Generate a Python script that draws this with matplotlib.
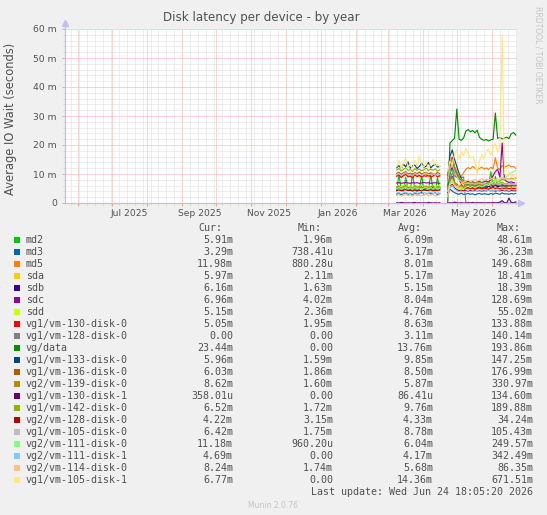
import numpy as np
import matplotlib
matplotlib.use("Agg")
import matplotlib.pyplot as plt
import matplotlib.dates as mdates
from matplotlib.ticker import MultipleLocator, FixedLocator
from datetime import datetime, timedelta

W, H = 547, 515

# ---------------- data (values in milliseconds) ----------------
seg1_start = datetime(2026, 3, 9)
seg2_start = datetime(2026, 4, 23)
dates = ([seg1_start + timedelta(days=2 * i) for i in range(20)]
         + [datetime(2026, 4, 19)]
         + [seg2_start + timedelta(days=2 * i) for i in range(31)])
N = None

md2 = [4.2, 9.8, 4.5, 4.1, 8.9, 4.6, 4.3, 10.2, 4.4, 4.0, 4.7, 9.5, 4.3, 4.5, 4.2, 10.0, 4.6, 4.1, 8.7, 4.4, N,
       3.8, 9.6, 12.4, 7.2, 6.5, 5.8, 6.2, 5.5, 5.9, 6.3, 5.6, 6.0, 5.4, 6.8, 6.1, 5.7, 6.1, 5.5, 5.9, 10.8, 5.8, 9.2, 6.0, 5.6, 7.1, 6.2, 5.7, 6.0, 5.8, 6.3, 5.91]
md3 = [3.1, 3.4, 2.9, 3.2, 3.6, 3.0, 3.3, 2.8, 3.5, 3.1, 3.2, 3.7, 2.9, 3.0, 3.4, 3.2, 3.1, 3.5, 2.9, 3.3, N,
       2.6, 4.8, 4.1, 3.6, 3.2, 3.0, 3.4, 2.9, 3.1, 3.3, 3.0, 3.2, 2.8, 3.1, 3.3, 3.0, 3.2, 3.1, 2.9, 3.3, 3.0, 3.4, 3.2, 3.0, 3.5, 3.1, 3.2, 3.0, 3.3, 3.1, 3.29]
md5 = [9.6, 10.1, 9.3, 9.8, 10.4, 9.5, 9.9, 9.2, 10.2, 9.7, 9.4, 10.0, 9.6, 9.8, 9.1, 10.3, 9.7, 9.5, 9.9, 9.4, N,
       7.5, 12.8, 14.6, 11.2, 9.8, 8.6, 9.2, 10.5, 11.6, 12.2, 11.8, 12.6, 12.0, 11.4, 11.9, 12.4, 11.7, 12.1, 11.5, 12.3, 11.8, 15.6, 12.0, 11.6, 12.9, 12.3, 12.7, 13.1, 12.4, 12.6, 11.98]
sda = [5.2, 4.8, 5.6, 5.1, 4.6, 5.4, 5.9, 4.9, 5.3, 5.0, 5.7, 4.7, 5.2, 5.5, 4.9, 5.1, 5.8, 5.0, 4.8, 5.3, N,
       4.5, 8.2, 7.4, 6.8, 6.1, 5.6, 5.2, 5.8, 5.0, 4.8, 5.3, 5.1, 4.9, 5.4, 5.2, 5.6, 4.8, 5.1, 5.5, 5.0, 5.3, 5.7, 5.2, 4.9, 6.4, 5.5, 5.1, 5.8, 5.4, 5.6, 5.97]
sdb = [5.0, 5.3, 4.8, 5.1, 5.5, 4.9, 5.2, 4.7, 5.4, 5.0, 5.1, 5.6, 4.8, 5.2, 5.0, 4.9, 5.3, 5.1, 4.8, 5.2, N,
       4.0, 7.6, 9.2, 6.4, 5.8, 5.2, 5.5, 5.0, 5.3, 5.6, 5.1, 5.4, 5.0, 5.2, 5.5, 5.3, 5.6, 5.2, 5.8, 5.4, 5.7, 6.1, 5.6, 5.9, 6.3, 5.8, 6.0, 6.2, 5.9, 6.1, 6.16]
sdc = [6.9, 7.0, 6.8, 6.9, 7.1, 6.9, 6.8, 7.0, 6.9, 7.0, 6.8, 6.9, 7.1, 6.9, 7.0, 6.8, 6.9, 7.0, 6.9, 6.8, N,
       6.0, 11.4, 12.2, 10.6, 9.2, 8.4, 7.8, 7.5, 7.2, 7.4, 7.1, 7.3, 7.0, 7.2, 7.4, 7.1, 7.3, 7.6, 7.2, 8.1, 9.4, 10.8, 11.6, 8.9, 20.7, 8.2, 7.4, 7.1, 7.3, 7.0, 6.96]
sdd = [5.8, 6.0, 5.6, 5.9, 6.2, 5.7, 5.8, 5.5, 6.1, 5.9, 5.7, 6.0, 5.6, 5.8, 6.1, 5.7, 5.9, 5.6, 6.0, 5.8, N,
       3.6, 6.8, 8.4, 6.2, 5.4, 4.9, 5.1, 4.6, 4.8, 5.0, 4.7, 4.9, 4.5, 4.8, 5.0, 4.6, 4.9, 5.1, 4.7, 5.0, 5.2, 5.5, 4.9, 5.1, 5.6, 5.0, 5.2, 4.8, 5.1, 5.3, 5.15]
vg1_130_0 = [9.2, 9.6, 8.8, 9.4, 9.9, 9.0, 9.3, 8.7, 9.7, 9.1, 9.5, 8.9, 9.4, 9.2, 9.8, 8.9, 9.3, 9.6, 9.0, 9.4, N,
             7.8, 13.6, 15.8, 12.4, 10.6, 8.2, 6.4, 5.4, 5.0, 5.2, 4.9, 5.1, 4.8, 5.0, 5.2, 4.9, 5.1, 5.0, 4.8, 5.1, 5.3, 5.0, 5.2, 4.9, 5.1, 5.0, 5.2, 4.9, 5.1, 5.0, 5.05]
vg1_128_0 = [4.8, 5.2, 4.6, 5.0, 5.4, 4.7, 4.9, 4.5, 5.1, 4.8, 5.0, 5.3, 4.6, 4.9, 5.1, 4.7, 5.0, 4.8, 5.2, 4.9, N,
             5.5, 8.6, 10.2, 9.4, 8.8, 9.1, 8.7, 9.0, 0.0, 0.0, 0.0, 0.0, 0.0, 0.0, 0.0, 0.0, 0.0, 0.0, 0.0, 0.0, 0.0, 0.0, 0.0, 0.0, 0.0, 0.0, 0.0, 0.0, 0.0, 0.0, 0.0]
vg_data = [N, N, N, N, N, N, N, N, N, N, N, N, N, N, N, N, N, N, N, N, N,
           0.0, 20.7, 21.5, 22.3, 32.4, 22.0, 21.6, 22.4, 24.8, 25.3, 24.6, 25.0, 24.2, 25.1, 22.6, 22.0, 21.6, 21.9, 21.4, 21.8, 22.0, 31.0, 22.3, 22.6, 22.1, 22.4, 22.7, 22.2, 23.9, 24.3, 23.44]
vg1_133_0 = [12.2, 12.9, 11.8, 13.4, 12.5, 14.2, 12.0, 12.8, 13.1, 11.9, 12.6, 13.8, 12.3, 12.7, 14.0, 12.1, 12.9, 13.3, 12.4, 12.6, N,
             9.5, 16.2, 18.3, 15.1, 12.6, 10.2, 8.4, 7.2, 6.6, 6.2, 6.5, 6.0, 6.3, 5.9, 6.2, 6.0, 6.4, 5.8, 6.1, 6.3, 5.9, 6.2, 6.0, 6.3, 5.8, 6.1, 6.0, 5.9, 6.2, 6.0, 5.96]
vg1_136_0 = [10.2, 10.6, 9.9, 10.4, 10.8, 10.0, 10.3, 9.8, 10.5, 10.1, 10.7, 9.9, 10.3, 10.6, 10.0, 10.4, 10.2, 9.8, 10.5, 10.1, N,
             8.0, 12.4, 14.2, 11.6, 9.8, 8.2, 7.4, 6.8, 6.4, 6.6, 6.2, 6.5, 6.1, 6.3, 6.6, 6.2, 6.4, 6.0, 6.3, 6.5, 6.1, 6.4, 6.2, 6.0, 6.5, 6.1, 6.3, 5.9, 6.2, 6.1, 6.03]
vg2_139_0 = [5.4, 5.8, 5.2, 5.6, 6.0, 5.3, 5.5, 5.1, 5.9, 5.4, 5.7, 5.2, 5.6, 5.8, 5.3, 5.5, 5.9, 5.2, 5.6, 5.4, N,
             4.2, 7.8, 8.9, 7.0, 6.2, 5.8, 6.0, 5.5, 5.8, 6.2, 5.7, 6.0, 5.6, 5.9, 6.3, 6.0, 6.4, 6.8, 6.5, 7.0, 7.4, 7.8, 7.2, 7.6, 8.2, 7.9, 8.4, 8.1, 8.6, 8.3, 8.62]
vg1_130_1 = [0.1, 0.0, 0.2, 0.1, 0.0, 0.1, 0.0, 0.1, 0.2, 0.0, 0.1, 0.0, 0.1, 0.0, 0.2, 0.1, 0.0, 0.1, 0.0, 0.1, N,
             0.0, 0.1, 0.0, 0.3, 0.1, 0.0, 0.1, 0.0, 0.0, 0.1, 0.0, 0.2, 0.0, 0.1, 0.0, 0.1, 0.0, 0.0, 0.1, 0.0, 0.2, 0.0, 0.1, 0.3, 0.8, 0.1, 0.0, 1.7, 0.2, 0.1, 0.36]
vg1_142_0 = [11.4, 11.9, 11.0, 11.6, 12.2, 11.2, 11.5, 10.9, 11.8, 11.3, 11.7, 11.1, 11.5, 12.0, 11.2, 11.6, 11.3, 11.8, 11.0, 11.4, N,
             8.6, 13.8, 15.2, 12.6, 10.8, 9.0, 8.1, 7.4, 7.0, 6.8, 7.1, 6.7, 6.9, 7.2, 6.8, 7.0, 6.6, 6.9, 7.1, 6.7, 7.0, 6.8, 6.5, 6.9, 7.2, 6.6, 6.8, 6.5, 6.7, 6.6, 6.52]
vg2_128_0 = [4.3, 4.5, 4.2, 4.4, 4.6, 4.3, 4.4, 4.1, 4.5, 4.3, 4.4, 4.2, 4.6, 4.3, 4.4, 4.5, 4.2, 4.4, 4.3, 4.5, N,
             3.6, 5.8, 6.4, 5.2, 4.6, 4.3, 4.4, 4.2, 4.3, 4.1, 4.3, 4.2, 4.4, 4.2, 4.3, 4.1, 4.3, 4.2, 4.4, 4.2, 4.3, 4.1, 4.3, 4.2, 4.4, 4.2, 4.3, 4.1, 4.3, 4.2, 4.22]
vg1_105_0 = [9.8, 10.2, 9.5, 10.0, 10.5, 9.7, 9.9, 9.4, 10.3, 9.8, 10.1, 9.6, 10.0, 10.4, 9.7, 9.9, 10.2, 9.5, 10.0, 9.8, N,
             7.4, 11.8, 13.2, 10.8, 9.2, 8.0, 7.4, 6.9, 6.6, 6.8, 6.5, 6.7, 6.4, 6.6, 6.9, 6.5, 6.7, 6.3, 6.6, 6.8, 6.4, 6.7, 6.5, 6.3, 6.8, 6.4, 6.6, 6.3, 6.5, 6.4, 6.42]
vg2_111_0 = [5.0, 5.3, 4.8, 5.1, 5.5, 4.9, 5.2, 4.7, 5.4, 5.0, 5.2, 4.8, 5.1, 5.4, 4.9, 5.2, 5.0, 5.3, 4.8, 5.1, N,
             4.0, 6.8, 7.6, 6.2, 5.6, 5.2, 5.5, 5.0, 5.4, 5.8, 5.3, 5.7, 5.2, 5.6, 6.0, 5.5, 5.9, 6.4, 6.0, 6.8, 7.2, 7.8, 7.4, 8.2, 8.8, 8.4, 9.2, 9.8, 10.4, 10.8, 11.18]
vg2_111_1 = [3.4, 3.6, 3.2, 3.5, 3.8, 3.3, 3.4, 3.1, 3.7, 3.4, 3.5, 3.2, 3.6, 3.4, 3.3, 3.7, 3.4, 3.2, 3.5, 3.4, N,
             2.8, 5.2, 6.0, 4.8, 4.2, 3.9, 4.1, 3.8, 4.0, 4.3, 3.9, 4.2, 4.0, 4.4, 4.1, 4.3, 4.0, 4.5, 4.2, 4.4, 4.1, 4.6, 4.3, 4.5, 4.8, 4.4, 4.6, 4.3, 4.7, 4.5, 4.69]
vg2_114_0 = [2.6, 2.9, 2.4, 2.7, 3.0, 2.5, 2.8, 2.3, 2.9, 2.6, 2.7, 2.4, 2.8, 3.0, 2.5, 2.7, 2.9, 2.4, 2.6, 2.8, N,
             2.2, 6.4, 7.8, 6.2, 5.6, 6.0, 6.8, 7.2, 7.6, 8.0, 7.4, 7.8, 8.2, 7.6, 8.0, 8.4, 7.8, 8.2, 7.9, 8.3, 8.6, 8.0, 8.4, 8.1, 8.8, 8.2, 8.5, 8.0, 8.3, 8.1, 8.24]
vg1_105_1 = [12.5, 14.8, 11.6, 13.9, 15.6, 12.2, 13.4, 11.8, 14.6, 12.9, 16.2, 13.1, 12.4, 14.1, 11.9, 13.6, 15.1, 12.8, 13.3, 12.6, N,
             11.0, 14.5, 13.2, 16.8, 18.4, 15.1, 17.6, 16.2, 18.9, 17.1, 15.4, 16.0, 14.3, 9.8, 14.6, 16.9, 15.2, 17.8, 18.6, 16.4, 19.2, 20.5, 17.4, 19.8, 58.0, 10.2, 9.4, 10.6, 9.1, 9.8, 6.77]

labels = ["md2", "md3", "md5", "sda", "sdb", "sdc", "sdd", "vg1/vm-130-disk-0",
          "vg1/vm-128-disk-0", "vg/data", "vg1/vm-133-disk-0", "vg1/vm-136-disk-0",
          "vg2/vm-139-disk-0", "vg1/vm-130-disk-1", "vg1/vm-142-disk-0",
          "vg2/vm-128-disk-0", "vg1/vm-105-disk-0", "vg2/vm-111-disk-0",
          "vg2/vm-111-disk-1", "vg2/vm-114-disk-0", "vg1/vm-105-disk-1"]
colors = ["#00CC00", "#0066B3", "#FF8000", "#FFCC00", "#330099", "#990099", "#CCFF00",
          "#FF0000", "#808080", "#008F00", "#00487D", "#B35A00", "#B38F00", "#6B006B",
          "#8FB300", "#B30000", "#BEBEBE", "#80FF80", "#80C9FF", "#FFC080", "#FFE680"]
series = [md2, md3, md5, sda, sdb, sdc, sdd, vg1_130_0, vg1_128_0, vg_data, vg1_133_0,
          vg1_136_0, vg2_139_0, vg1_130_1, vg1_142_0, vg2_128_0, vg1_105_0, vg2_111_0,
          vg2_111_1, vg2_114_0, vg1_105_1]

cur_vals = ["5.91m", "3.29m", "11.98m", "5.97m", "6.16m", "6.96m", "5.15m", "5.05m", "0.00",
            "23.44m", "5.96m", "6.03m", "8.62m", "358.01u", "6.52m", "4.22m", "6.42m",
            "11.18m", "4.69m", "8.24m", "6.77m"]
min_vals = ["1.96m", "738.41u", "880.28u", "2.11m", "1.63m", "4.02m", "2.36m", "1.95m", "0.00",
            "0.00", "1.59m", "1.86m", "1.60m", "0.00", "1.72m", "3.15m", "1.75m", "960.20u",
            "0.00", "1.74m", "0.00"]
avg_vals = ["6.09m", "3.17m", "8.01m", "5.17m", "5.15m", "8.04m", "4.76m", "8.63m", "3.11m",
            "13.76m", "9.85m", "8.50m", "5.87m", "86.41u", "9.76m", "4.33m", "8.78m", "6.04m",
            "4.17m", "5.68m", "14.36m"]
max_vals = ["48.61m", "36.23m", "149.68m", "18.41m", "18.39m", "128.69m", "55.02m", "133.88m",
            "140.14m", "193.86m", "147.25m", "176.99m", "330.97m", "134.60m", "189.88m",
            "34.24m", "105.43m", "249.57m", "342.49m", "86.35m", "671.51m"]

y_ticks = [0, 10, 20, 30, 40, 50, 60]
x_label_months = [datetime(2025, 7, 1), datetime(2025, 9, 1), datetime(2025, 11, 1),
                  datetime(2026, 1, 1), datetime(2026, 3, 1), datetime(2026, 5, 1)]

# ---------------- figure ----------------
BG = "#F0F0F0"
TXT = "#505050"
fig = plt.figure(figsize=(W / 100, H / 100), dpi=100, facecolor=BG)

def fx(x):
    return x / W

def fy(y):
    return 1 - y / H

L, R, T, B = 65, 517, 29, 203
ax = fig.add_axes([fx(L), fy(B), (R - L) / W, (B - T) / H])
ax.set_facecolor("white")
for s in ax.spines.values():
    s.set_visible(False)

xmin = datetime(2025, 5, 20, 14, 0)
xmax = datetime(2026, 6, 23, 2, 0)
ax.set_xlim(xmin, xmax)
ax.set_ylim(0, 60)

ax.xaxis.set_major_locator(mdates.MonthLocator())
ax.xaxis.set_minor_locator(mdates.WeekdayLocator(byweekday=mdates.MO))
ax.yaxis.set_major_locator(FixedLocator(y_ticks))
ax.yaxis.set_minor_locator(MultipleLocator(2))
ax.grid(which="minor", color="#dcdcdc", linestyle=(0, (1, 1)), linewidth=0.72)
ax.grid(which="major", color="#f4aaaa", linestyle=(0, (1, 1)), linewidth=0.72)
ax.set_axisbelow(True)

ax.set_xticklabels([])
ax.tick_params(axis="x", which="major", length=2.2, width=0.72, color="#f0a0a0", direction="out")
ax.tick_params(axis="x", which="minor", length=1.5, width=0.72, color="#d8d8d8", direction="out")
ax.tick_params(axis="y", which="major", length=2.2, width=0.72, color="#f0a0a0", direction="out",
               pad=3.6, labelsize=6.6, labelcolor=TXT)
ax.tick_params(axis="y", which="minor", length=1.5, width=0.72, color="#d8d8d8", direction="out")
ax.set_yticklabels(["0" if v == 0 else f"{v} m" for v in y_ticks])

for d in x_label_months:
    ax.text(d + timedelta(days=15), -(213 - B) / (B - T), d.strftime("%b %Y"),
            transform=ax.get_xaxis_transform(), ha="center", va="center",
            fontsize=6.6, color=TXT)

for vals, col in zip(series, colors):
    ax.plot(dates, np.array(vals, dtype=float), color=col, linewidth=0.85, zorder=3)

# axis lines with arrows
axc = "#c0c0ee"
ax.plot([xmin, xmin], [0, 61.6], color=axc, lw=0.9, clip_on=False, zorder=4)
ax.plot([xmin, xmax + timedelta(days=3)], [0, 0], color=axc, lw=0.9, clip_on=False, zorder=4)
ax.plot([xmin], [62.2], marker="^", color=axc, markersize=4, clip_on=False, zorder=4)
ax.plot([xmax + timedelta(days=3.5)], [0], marker=">", color=axc, markersize=4, clip_on=False, zorder=4)

# title & axis label
fig.text(fx(261), fy(18), "Disk latency per device - by year", ha="center", va="center",
         fontsize=8.6, color=TXT)
fig.text(fx(11), fy(119), "Average IO Wait (seconds)", rotation=90, ha="center", va="center",
         fontsize=8.3, color=TXT)
fig.text(fx(538), fy(55), "RRDTOOL / TOBI OETIKER", rotation=270, ha="center", va="center",
         fontsize=5.5, color="#c4c4c4")

# legend
mono = "DejaVu Sans Mono"
LFS = 7.2
hdr_y = 228
for txt, xl in [("Cur:", 198), ("Min:", 298), ("Avg:", 398), ("Max:", 497)]:
    fig.text(fx(xl), fy(hdr_y), txt, ha="left", va="center", family=mono, fontsize=LFS, color=TXT)

for i, (lab, col) in enumerate(zip(labels, colors)):
    y = 240 + 12 * i
    fig.patches.append(plt.Rectangle((fx(14), fy(y + 3)), 6 / W, 6 / H, transform=fig.transFigure,
                                     facecolor=col, edgecolor="none"))
    fig.text(fx(26), fy(y), lab, ha="left", va="center", family=mono, fontsize=LFS, color=TXT)
    fig.text(fx(233), fy(y), cur_vals[i], ha="right", va="center", family=mono, fontsize=LFS, color=TXT)
    fig.text(fx(333), fy(y), min_vals[i], ha="right", va="center", family=mono, fontsize=LFS, color=TXT)
    fig.text(fx(433), fy(y), avg_vals[i], ha="right", va="center", family=mono, fontsize=LFS, color=TXT)
    fig.text(fx(533), fy(y), max_vals[i], ha="right", va="center", family=mono, fontsize=LFS, color=TXT)

fig.text(fx(533), fy(492), "Last update: Wed Jun 24 18:05:20 2026", ha="right", va="center",
         family=mono, fontsize=LFS, color=TXT)
fig.text(fx(273), fy(505), "Munin 2.0.76", ha="center", va="center", fontsize=5.5, color="#c4c4c4")

fig.savefig("out.png", dpi=100, facecolor=BG)
